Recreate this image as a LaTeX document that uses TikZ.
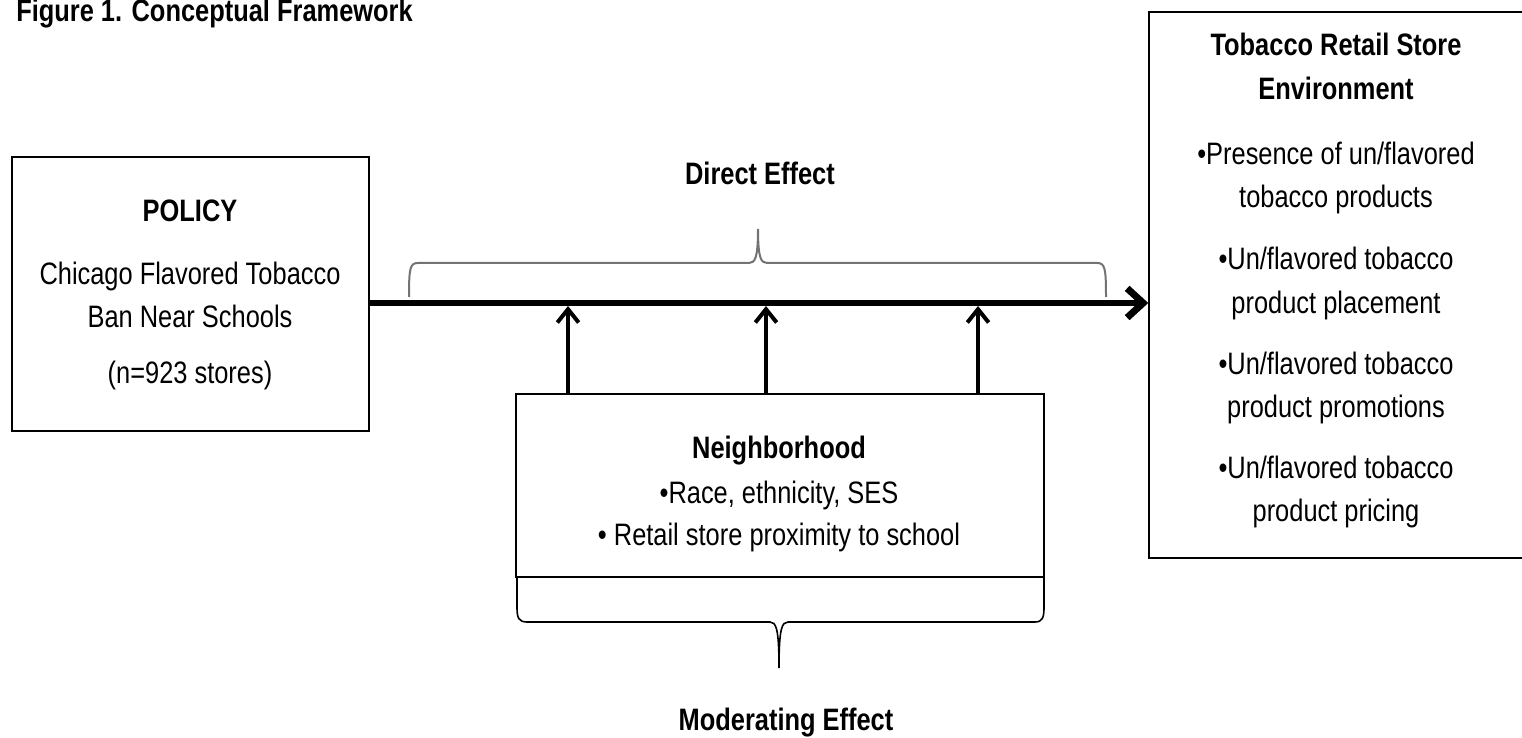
\documentclass[tikz,border=0pt]{standalone}
\usepackage{fontspec}
\setmainfont{Liberation Sans}[FakeStretch=0.82]
\usetikzlibrary{arrows.meta}

\begin{document}
\begin{tikzpicture}[x=0.75pt,y=0.75pt,yscale=-1,xscale=1,
    box/.style={draw, line width=1.1pt, inner sep=0pt},
    txt/.style={anchor=base, inner sep=0.75pt, font=\fontsize{23.25}{27}\selectfont},
    btxt/.style={anchor=base, inner sep=0.75pt, font=\fontsize{23.25}{27}\selectfont\bfseries},
    bracket/.style={draw=black!55, line width=1.5pt},
    mainarrow/.style={line width=5.2pt, -{Straight Barb[length=12pt,width=22pt]}},
    uparrow/.style={line width=3pt, -{Straight Barb[length=10pt,width=16pt]}}]
    \useasboundingbox (0,0) rectangle (1522,738);

    %Boxes
    \node[box, minimum width=267.75pt, minimum height=205.5pt] (policy) at (190.5,294) {};
    \node[box, minimum width=396pt, minimum height=137.25pt] (neigh) at (780,485.5) {};
    \node[box, minimum width=285.75pt, minimum height=409.5pt] (env) at (1339.5,285) {};
    \coordinate (axis) at (0,303);

    %Direct effect arrow
    \draw[mainarrow] (policy.east |- axis) -- (env.west |- axis);
    %Moderating arrows
    \foreach \x in {568,766,978}
        \draw[uparrow] (neigh.north -| \x,0) -- (\x,306);

    %Brace: direct effect
    \draw[bracket] (409,297) .. controls (409,268) and (410,263) .. (418,263) -- (749,263) .. controls (755,263) and (758,258) .. (758,229) .. controls (758,258) and (761,263) .. (767,263) -- (1097,263) .. controls (1105,263) and (1106,268) .. (1106,297);
    %Brace: moderating effect
    \draw[line width=1.2pt] (517,577) -- (517,608) .. controls (517,618) and (519,622) .. (527,622) -- (770,622) .. controls (776,622) and (779,628) .. (779,668) .. controls (779,628) and (782,622) .. (788,622) -- (1035,622) .. controls (1042,622) and (1044,618) .. (1044,608) -- (1044,577);

    % Text Node
    \node[btxt, anchor=base west] (title) at (15,22) {Figure 1. Conceptual Framework};
    % Text Node
    \node[btxt] (direct) at (760,185) {Direct Effect};
    % Text Node
    \node[btxt] (moder) at (786,730) {Moderating Effect};
    % Text Node
    \node[btxt] (policyhead) at (190,222) {POLICY};
    \node[txt] (policy1) at (190,285) {Chicago Flavored Tobacco};
    \node[txt] (policy2) at (190,327) {Ban Near Schools};
    \node[txt] (policy3) at (190,383) {(n=923 stores)};
    % Text Node
    \node[btxt] (neighhead) at (779,458) {Neighborhood};
    \node[txt] (neigh1) at (779,503) {•Race, ethnicity, SES};
    \node[txt] (neigh2) at (779,545) {• Retail store proximity to school};
    % Text Node
    \node[btxt] (envhead1) at (1336,56) {Tobacco Retail Store};
    \node[btxt] (envhead2) at (1336,100) {Environment};
    \node[txt] (env1) at (1336,165) {•Presence of un/flavored};
    \node[txt] (env2) at (1336,208) {tobacco products};
    \node[txt] (env3) at (1336,270) {•Un/flavored tobacco};
    \node[txt] (env4) at (1336,313) {product placement};
    \node[txt] (env5) at (1336,374) {•Un/flavored tobacco};
    \node[txt] (env6) at (1336,417) {product promotions};
    \node[txt] (env7) at (1336,478) {•Un/flavored tobacco};
    \node[txt] (env8) at (1336,521) {product pricing};

\end{tikzpicture}
\end{document}
